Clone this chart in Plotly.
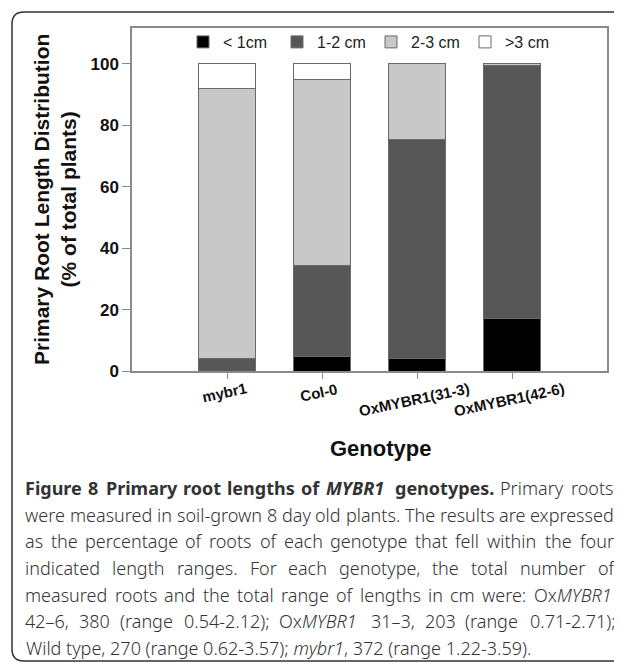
import math
import plotly.graph_objects as go

# ---------------- data ----------------
genotypes = ["mybr1", "Col-0", "OxMYBR1(31-3)", "OxMYBR1(42-6)"]
lt1cm = [0.0, 4.7, 4.1, 17.0]
cm1_2 = [4.1, 29.5, 71.3, 82.5]
cm2_3 = [87.9, 60.8, 24.6, 0.5]
gt3cm = [8.0, 5.0, 0.0, 0.0]
series_names = ["< 1cm", "1-2 cm", "2-3 cm", ">3 cm"]
series_vals = [lt1cm, cm1_2, cm2_3, gt3cm]
series_cols = ["#000000", "#575757", "#c8c8c8", "#ffffff"]
y_ticks = [0, 20, 40, 60, 80, 100]

caption_lines = [
    "<b>Figure 8 Primary root lengths of <i>MYBR1</i> genotypes.</b> Primary roots",
    "were measured in soil-grown 8 day old plants. The results are expressed",
    "as the percentage of roots of each genotype that fell within the four",
    "indicated length ranges. For each genotype, the total number of",
    "measured roots and the total range of lengths in cm were: Ox<i>MYBR1</i>",
    "42–6, 380 (range 0.54-2.12); Ox<i>MYBR1</i> 31–3, 203 (range 0.71-2.71);",
    "Wild type, 270 (range 0.62-3.57); <i>mybr1</i>, 372 (range 1.22-3.59).",
]

# ---------------- geometry (page pixels) ----------------
PAGE_W, PAGE_H = 622, 662
OFF = 8  # default body margin of the html page
L, R, T, B = 132, 607, 28, 371
PW, PH = R - L, B - T


def px(x):
    return (x - L) / PW


def py(y):
    return (B - y) / PH


ARIAL = "Liberation Sans, Arial, sans-serif"
CAPF = "Noto Sans, Open Sans, sans-serif"

fig = go.Figure()
for name, vals, col in zip(series_names, series_vals, series_cols):
    fig.add_trace(go.Bar(
        name=name, x=genotypes, y=vals, width=0.61,
        marker=dict(color=col, line=dict(color="#6a6a6a", width=1)),
    ))

fig.update_layout(
    width=PAGE_W - OFF, height=PAGE_H - OFF,
    margin=dict(l=L - OFF, r=PAGE_W - R, t=T - OFF, b=PAGE_H - B, pad=0),
    barmode="stack",
    plot_bgcolor="white", paper_bgcolor="white",
    font=dict(family=ARIAL, color="#111111"),
    showlegend=True,
    legend=dict(
        orientation="h", x=px(183), y=py(42), xanchor="left", yanchor="middle",
        traceorder="normal", entrywidth=49, entrywidthmode="pixels",
        font=dict(family=ARIAL, size=16, color="#222222"),
        bgcolor="rgba(0,0,0,0)", itemwidth=30,
    ),
    xaxis=dict(
        range=[-1, 4], showline=True, linecolor="#8a8a8a", linewidth=1.5,
        mirror=True, ticks="outside", ticklen=6, tickcolor="#8a8a8a",
        showticklabels=False, showgrid=False, zeroline=False,
    ),
    yaxis=dict(
        range=[0, 111.7], showline=True, linecolor="#8a8a8a", linewidth=1.5,
        mirror=True, ticks="outside", ticklen=8, tickcolor="#8a8a8a",
        tickvals=y_ticks, ticktext=["<b>%d</b>" % v for v in y_ticks],
        tickfont=dict(family=ARIAL, size=17, color="#111111"),
        showgrid=False, zeroline=False,
    ),
)

# rotated category labels centred under each tick
ang = 12
for g in genotypes:
    w = len(g) * 8.7
    yc = 388 + (w / 2) * math.sin(math.radians(ang))
    fig.add_annotation(
        x=g, xref="x", y=py(yc), yref="paper", text="<b>%s</b>" % g,
        showarrow=False, textangle=-ang, xanchor="center", yanchor="middle",
        xshift=-3, font=dict(family=ARIAL, size=15, color="#111111"),
    )

# axis titles
fig.add_annotation(
    x=px(380), y=py(448), xref="paper", yref="paper",
    text="<b>Genotype</b>", showarrow=False, xanchor="center", yanchor="middle",
    font=dict(family=ARIAL, size=22, color="#111111"),
)
fig.add_annotation(
    x=px(55), y=py(200), xref="paper", yref="paper",
    text="<b>Primary Root Length Distribution<br>(% of total plants)</b>",
    showarrow=False, textangle=-90, xanchor="center", yanchor="middle",
    font=dict(family=ARIAL, size=21, color="#111111"),
)

# ---------------- caption, justified like the reference ----------------
CW = dict(zip("abcdefghijklmnopqrstuvwxyz",
              [.561, .615, .480, .615, .564, .344, .615, .618, .258, .258,
               .534, .258, .935, .618, .605, .615, .615, .413, .479, .361,
               .618, .508, .786, .529, .510, .470]))
CW.update(zip("ABCDEFGHIJKLMNOPQRSTUVWXYZ",
              [.639, .648, .632, .729, .556, .516, .726, .738, .279, .267,
               .613, .519, .907, .754, .780, .603, .780, .618, .549, .553,
               .728, .595, .926, .577, .560, .564]))
CW.update({c: .572 for c in "0123456789"})
CW.update({".": .268, ",": .250, ";": .268, ":": .268, "-": .322,
           "–": .500, "(": .296, ")": .296})
SPACE = .260
CAP_SIZE = 18
CAP_X0, CAP_X1 = 24, 613


def parse_words(line):
    words, cur, b, it, pos = [], [], False, False, 0
    tags = {"<b>": ("b", True), "</b>": ("b", False),
            "<i>": ("i", True), "</i>": ("i", False)}
    while pos < len(line):
        hit = None
        for tg in tags:
            if line.startswith(tg, pos):
                hit = tg
                break
        if hit:
            k, v = tags[hit]
            if k == "b":
                b = v
            else:
                it = v
            pos += len(hit)
            continue
        c = line[pos]
        pos += 1
        if c == " ":
            if cur:
                words.append(cur)
                cur = []
        else:
            cur.append((c, b, it))
    if cur:
        words.append(cur)
    return words


def word_width(word):
    return sum(CW.get(c, .56) * (1.08 if b else 1.0) for c, b, _ in word)


def word_markup(word):
    out, i = "", 0
    while i < len(word):
        _, b, it = word[i]
        j = i
        while j < len(word) and word[j][1] == b and word[j][2] == it:
            j += 1
        s = "".join(c for c, _, _ in word[i:j])
        if it:
            s = "<i>%s</i>" % s
        if b:
            s = "<b>%s</b>" % s
        out += s
        i = j
    return out


parsed = [parse_words(l) for l in caption_lines]
# calibrate em-width scale on the longest (nearly natural) line
ref_words = parsed[1]
ref_natural = sum(word_width(w) for w in ref_words) + SPACE * (len(ref_words) - 1)
scale = (CAP_X1 - CAP_X0) / ref_natural

for i, words in enumerate(parsed):
    yv = py(488 + 26.67 * i)
    fnt = dict(family=CAPF, size=CAP_SIZE, color="#333333", weight=300)
    if i == len(parsed) - 1:
        fig.add_annotation(
            x=px(CAP_X0), y=yv, xref="paper", yref="paper",
            text=caption_lines[i], showarrow=False, xanchor="left",
            yanchor="middle", font=fnt)
        continue
    widths = [word_width(w) * scale for w in words]
    gap = (CAP_X1 - CAP_X0 - sum(widths)) / (len(words) - 1)
    x = CAP_X0
    for w, wd in zip(words, widths):
        fig.add_annotation(
            x=px(x), y=yv, xref="paper", yref="paper",
            text=word_markup(w), showarrow=False, xanchor="left",
            yanchor="middle", font=fnt, borderpad=0)
        x += wd + gap

# rounded frame around the figure
r = 12
x0, y0, y1, x1 = 12, 12, 661, 640
path = (
    f"M {px(x1)},{py(y0)} L {px(x0 + r)},{py(y0)} "
    f"Q {px(x0)},{py(y0)} {px(x0)},{py(y0 + r)} "
    f"L {px(x0)},{py(y1 - r)} "
    f"Q {px(x0)},{py(y1)} {px(x0 + r)},{py(y1)} "
    f"L {px(x1)},{py(y1)}"
)
fig.add_shape(type="path", path=path, xref="paper", yref="paper",
              line=dict(color="#333333", width=1.5))

fig.write_html("out.html")
